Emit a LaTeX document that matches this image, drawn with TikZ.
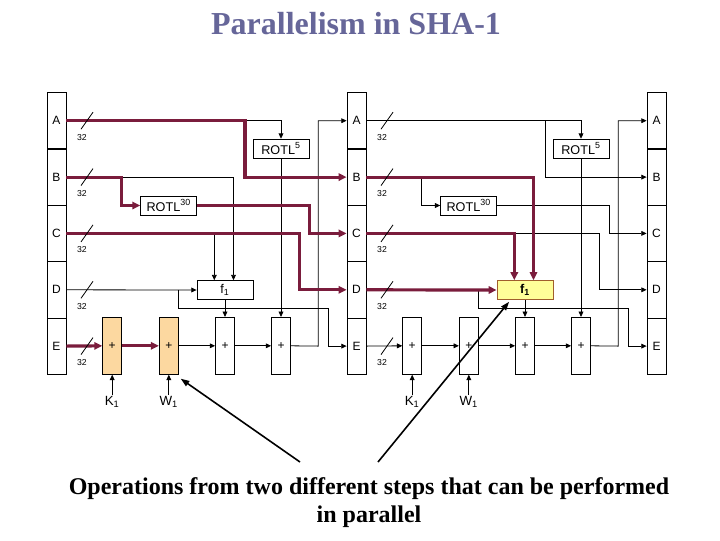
\documentclass[tikz,border=0pt]{standalone}
\usepackage{fontspec}
\setmainfont{Liberation Serif}
\setsansfont{Liberation Sans}
\usepackage{xcolor}
\usepackage{tikz}
\usetikzlibrary{arrows.meta, calc, positioning}
\definecolor{granate}{RGB}{122,28,60}
\definecolor{pizarra}{RGB}{102,102,153}
\definecolor{naranja}{RGB}{252,216,160}
\definecolor{amarillo}{RGB}{255,255,153}
\definecolor{borde}{RGB}{160,95,45}

\begin{document}
\begin{tikzpicture}[
        x=0.75pt, y=-0.75pt,
        registro/.style={
            rectangle,
            draw=black,
            line width=0.6pt,
            minimum width=14.25pt,
            minimum height=42.27pt,
            inner sep=0pt,
            font=\sffamily\fontsize{9}{10}\selectfont
        },
        sumador/.style={
            rectangle,
            draw=black,
            line width=0.6pt,
            minimum width=14.25pt,
            minimum height=42.75pt,
            inner sep=0pt,
            fill=white,
            font=\sffamily\fontsize{9}{10}\selectfont
        },
        caja/.style={
            rectangle,
            draw=black,
            line width=0.6pt,
            minimum width=42pt,
            minimum height=14.1pt,
            inner sep=0pt,
            fill=white,
            font=\sffamily\fontsize{9.5}{10}\selectfont
        },
        etiqueta/.style={
            font=\sffamily\fontsize{10}{11}\selectfont,
            inner sep=1pt
        },
        ancho/.style={
            font=\sffamily\fontsize{6.5}{7}\selectfont,
            inner sep=0pt
        },
        marca/.style={
            line width=0.6pt
        },
        flecha/.style={
            -{Triangle[length=4pt,width=3.6pt]},
            line width=0.6pt
        },
        gruesa/.style={
            -{Triangle[length=6pt,width=5.5pt]},
            draw=granate,
            line width=2.4pt
        },
        senal/.style={
            -{Triangle[length=6.5pt,width=4.5pt]},
            line width=1.2pt
        }
    ]

    \useasboundingbox (0,0) rectangle (720,540);

    \node[font=\bfseries\fontsize{24}{28}\selectfont, text=pizarra] (titulo) at (356,24) {Parallelism in SHA-1};

    % registros
    \node[registro] (A1) at (56.5,120.7) {A};
    \node[registro] (B1) at (56.5,177.1) {B};
    \node[registro] (C1) at (56.5,233.4) {C};
    \node[registro] (D1) at (56.5,289.8) {D};
    \node[registro] (E1) at (56.5,346.1) {E};

    \node[registro] (A2) at (356.5,120.7) {A};
    \node[registro] (B2) at (356.5,177.1) {B};
    \node[registro] (C2) at (356.5,233.4) {C};
    \node[registro] (D2) at (356.5,289.8) {D};
    \node[registro] (E2) at (356.5,346.1) {E};

    \node[registro] (A3) at (656.5,120.7) {A};
    \node[registro] (B3) at (656.5,177.1) {B};
    \node[registro] (C3) at (656.5,233.4) {C};
    \node[registro] (D3) at (656.5,289.8) {D};
    \node[registro] (E3) at (656.5,346.1) {E};

    % paso 1
    \node[caja] (rot5_1) at (281,148.5) {ROTL\textsuperscript{5}};
    \node[caja] (rot30_1) at (168.7,205.5) {ROTL\textsuperscript{30}};
    \node[caja] (f_1) at (225,290) {f\textsubscript{1}};
    \node[sumador, fill=naranja] (sum1_1) at (112.2,345.8) {+};
    \node[sumador, fill=naranja] (sum2_1) at (168.8,345.8) {+};
    \node[sumador] (sum3_1) at (225,345.8) {+};
    \node[sumador] (sum4_1) at (281,345.8) {+};
    \node[etiqueta, below=15pt of sum1_1] (k_1) {K\textsubscript{1}};
    \node[etiqueta, below=15pt of sum2_1] (w_1) {W\textsubscript{1}};

    % paso 2
    \node[caja] (rot5_2) at (581,148.5) {ROTL\textsuperscript{5}};
    \node[caja] (rot30_2) at (468.7,205.5) {ROTL\textsuperscript{30}};
    \node[caja, fill=amarillo, draw=borde] (f_2) at (525,290) {\bfseries f\textsubscript{1}};
    \node[sumador] (sum1_2) at (412.2,345.8) {+};
    \node[sumador] (sum2_2) at (468.8,345.8) {+};
    \node[sumador] (sum3_2) at (525,345.8) {+};
    \node[sumador] (sum4_2) at (581,345.8) {+};
    \node[etiqueta, below=15pt of sum1_2] (k_2) {K\textsubscript{1}};
    \node[etiqueta, below=15pt of sum2_2] (w_2) {W\textsubscript{1}};

    % puntos de giro
    \coordinate (gA1) at (245,120.7);
    \coordinate (gB1) at (121.7,177.1);
    \coordinate (fB1) at (233.5,177.1);
    \coordinate (gR1) at (309.3,205.5);
    \coordinate (gC1) at (299.3,233.4);
    \coordinate (fC1) at (214.3,233.4);
    \coordinate (gD1) at (178.3,289.8);
    \coordinate (gDE1) at (328.3,308.3);
    \coordinate (gE1) at (318.3,346.1);

    \coordinate (gA2) at (545,120.7);
    \coordinate (gB2) at (421.7,177.1);
    \coordinate (fB2) at (533.5,177.1);
    \coordinate (gR2) at (609.3,205.5);
    \coordinate (gC2) at (599.3,233.4);
    \coordinate (fC2) at (514.3,233.4);
    \coordinate (gD2) at (478.3,289.8);
    \coordinate (gDE2) at (628.3,308.3);
    \coordinate (gE2) at (618.3,346.1);

    % conexiones finas, paso 1
    \draw[flecha] (gA1) -| (rot5_1.north);
    \draw[flecha] (rot5_1.south) -- (sum4_1.north);
    \draw[flecha] (gB1) -- (fB1) -- (fB1 |- f_1.north);
    \draw[flecha] (fC1) -- (fC1 |- f_1.north);
    \draw[flecha] (D1.east) -- (f_1.west);
    \draw[flecha] (gD1) |- (gDE1) |- (E2.west);
    \draw[flecha] (f_1.south) -- (sum3_1.north);
    \draw[flecha] (sum2_1.east) -- (sum3_1.west);
    \draw[flecha] (sum3_1.east) -- (sum4_1.west);
    \draw[flecha] (sum4_1.east) -- (gE1) |- (A2.west);
    \draw[flecha] (k_1.north) -- (sum1_1.south);
    \draw[flecha] (w_1.north) -- (sum2_1.south);

    % conexiones finas, paso 2
    \draw[flecha] (A2.east) -- (gA2) |- (B3.west);
    \draw[flecha] (gA2) -| (rot5_2.north);
    \draw[flecha] (rot5_2.south) -- (sum4_2.north);
    \draw[flecha] (gB2) |- (rot30_2.west);
    \draw[flecha] (rot30_2.east) -- (gR2) |- (C3.west);
    \draw[flecha] (fC2) -- (gC2) |- (D3.west);
    \draw[flecha] (gD2) |- (gDE2) |- (E3.west);
    \draw[flecha] (f_2.south) -- (sum3_2.north);
    \draw[flecha] (E2.east) -- (sum1_2.west);
    \draw[flecha] (sum1_2.east) -- (sum2_2.west);
    \draw[flecha] (sum2_2.east) -- (sum3_2.west);
    \draw[flecha] (sum3_2.east) -- (sum4_2.west);
    \draw[flecha] (sum4_2.east) -- (gE2) |- (A3.west);
    \draw[flecha] (k_2.north) -- (sum1_2.south);
    \draw[flecha] (w_2.north) -- (sum2_2.south);

    % caminos resaltados
    \draw[gruesa] (A1.east) -- (gA1) |- (B2.west);
    \draw[gruesa] (B1.east) -- (gB1) |- (rot30_1.west);
    \draw[gruesa] (rot30_1.east) -- (gR1) |- (C2.west);
    \draw[gruesa] (C1.east) -- (gC1) |- (D2.west);
    \draw[gruesa] (E1.east) -- (sum1_1.west);
    \draw[gruesa] (sum1_1.east) -- (sum2_1.west);

    \draw[gruesa] (B2.east) -- (fB2) -- (fB2 |- f_2.north);
    \draw[gruesa] (C2.east) -- (fC2) -- (fC2 |- f_2.north);
    \draw[gruesa] (D2.east) -- (f_2.west);

    % anchos de bus
    \draw[marca] (87,120.7) +(-6,8.5) -- +(6,-8.5) +(-5,16.5) node[ancho] {32};
    \draw[marca] (87,177.1) +(-6,8.5) -- +(6,-8.5) +(-5,16.5) node[ancho] {32};
    \draw[marca] (87,233.4) +(-6,8.5) -- +(6,-8.5) +(-5,16.5) node[ancho] {32};
    \draw[marca] (87,289.8) +(-6,8.5) -- +(6,-8.5) +(-5,16.5) node[ancho] {32};
    \draw[marca] (87,346.1) +(-6,8.5) -- +(6,-8.5) +(-5,16.5) node[ancho] {32};
    \draw[marca] (387,120.7) +(-6,8.5) -- +(6,-8.5) +(-5,16.5) node[ancho] {32};
    \draw[marca] (387,177.1) +(-6,8.5) -- +(6,-8.5) +(-5,16.5) node[ancho] {32};
    \draw[marca] (387,233.4) +(-6,8.5) -- +(6,-8.5) +(-5,16.5) node[ancho] {32};
    \draw[marca] (387,289.8) +(-6,8.5) -- +(6,-8.5) +(-5,16.5) node[ancho] {32};
    \draw[marca] (387,346.1) +(-6,8.5) -- +(6,-8.5) +(-5,16.5) node[ancho] {32};

    % nota
    \node[align=center, font=\bfseries\fontsize{18}{21}\selectfont] (nota) at (369,503)
        {Operations from two different steps that can be performed\\in parallel};
    \coordinate (p1) at (300,462);
    \coordinate (p2) at (378,462);
    \draw[senal] (p1) -- ($(sum2_1.south east)+(2,4)$);
    \draw[senal] (p2) -- ($(f_2.south west)+(12.5,2)$);

\end{tikzpicture}
\end{document}
